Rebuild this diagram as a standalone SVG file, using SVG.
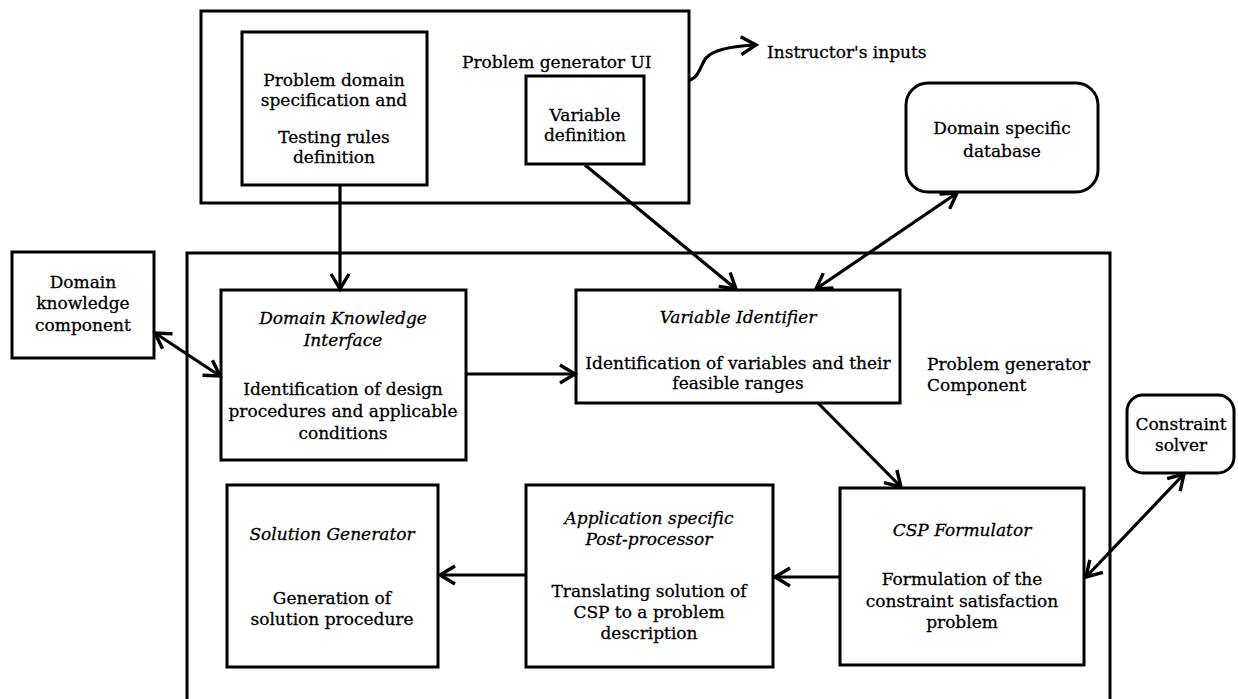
<svg xmlns="http://www.w3.org/2000/svg" width="1238" height="699" viewBox="0 0 1238 699">
  <style>
    .box { fill: #fff; stroke: #000; stroke-width: 3; }
    .frame { fill: none; stroke: #000; stroke-width: 3; }
    .t { font-family: "DejaVu Serif", "Liberation Serif", serif; font-size: 17px; fill: #000; stroke: #000; stroke-width: 0.3; }
    .c { text-anchor: middle; }
    .i { font-style: italic; }
    .link { fill: none; stroke: #000; stroke-width: 3.2; }
  </style>
  <defs>
    <marker id="chev" markerUnits="userSpaceOnUse" markerWidth="28" markerHeight="28" viewBox="-18 -14 22 28" refX="0" refY="0" orient="auto-start-reverse" overflow="visible">
      <path d="M-15,-9 L0,0 L-15,9" fill="none" stroke="#000" stroke-width="3.4"/>
    </marker>
  </defs>
  <rect width="1238" height="699" fill="#fff"/>

  <!-- Problem generator UI container -->
  <g id="ui-frame">
    <rect class="frame" x="201" y="11" width="488" height="192"/>
    <text class="t" x="462" y="68">Problem generator UI</text>
  </g>

  <!-- Problem generator component container -->
  <g id="component-frame">
    <rect class="frame" x="187" y="253" width="923" height="460"/>
    <text class="t" x="927" y="370">Problem generator</text>
    <text class="t" x="927" y="391">Component</text>
  </g>

  <g id="domain-spec">
    <rect class="box" x="242" y="32" width="185" height="153"/>
    <text class="t c" x="334" y="86">Problem domain</text>
    <text class="t c" x="334" y="106">specification and</text>
    <text class="t c" x="334" y="143">Testing rules</text>
    <text class="t c" x="334" y="163">definition</text>
  </g>

  <g id="variable-definition">
    <rect class="box" x="526" y="76" width="118" height="88"/>
    <text class="t c" x="585" y="121">Variable</text>
    <text class="t c" x="585" y="141">definition</text>
  </g>

  <g id="instructor-inputs">
    <text class="t" x="767" y="58">Instructor's inputs</text>
  </g>

  <g id="domain-database">
    <rect class="box" x="906" y="83" width="192" height="109" rx="22" ry="22"/>
    <text class="t c" x="1002" y="134">Domain specific</text>
    <text class="t c" x="1002" y="157">database</text>
  </g>

  <g id="domain-knowledge-component">
    <rect class="box" x="12" y="252" width="142" height="106"/>
    <text class="t c" x="83" y="288">Domain</text>
    <text class="t c" x="83" y="309">knowledge</text>
    <text class="t c" x="83" y="331">component</text>
  </g>

  <g id="domain-knowledge-interface">
    <rect class="box" x="221" y="290" width="245" height="170"/>
    <text class="t c i" x="343" y="324">Domain Knowledge</text>
    <text class="t c i" x="343" y="346">Interface</text>
    <text class="t c" x="343" y="395">Identification of design</text>
    <text class="t c" x="343" y="417">procedures and applicable</text>
    <text class="t c" x="343" y="439">conditions</text>
  </g>

  <g id="variable-identifier">
    <rect class="box" x="576" y="290" width="324" height="113"/>
    <text class="t c i" x="738" y="323">Variable Identifier</text>
    <text class="t c" x="738" y="369">Identification of variables and their</text>
    <text class="t c" x="738" y="389">feasible ranges</text>
  </g>

  <g id="constraint-solver">
    <rect class="box" x="1127" y="395" width="107" height="78" rx="16" ry="16"/>
    <text class="t c" x="1181" y="430">Constraint</text>
    <text class="t c" x="1181" y="451">solver</text>
  </g>

  <g id="solution-generator">
    <rect class="box" x="227" y="485" width="211" height="182"/>
    <text class="t c i" x="332" y="540">Solution Generator</text>
    <text class="t c" x="332" y="604">Generation of</text>
    <text class="t c" x="332" y="625">solution procedure</text>
  </g>

  <g id="post-processor">
    <rect class="box" x="526" y="485" width="247" height="182"/>
    <text class="t c i" x="649" y="524">Application specific</text>
    <text class="t c i" x="649" y="545">Post-processor</text>
    <text class="t c" x="649" y="597">Translating solution of</text>
    <text class="t c" x="649" y="618">CSP to a problem</text>
    <text class="t c" x="649" y="639">description</text>
  </g>

  <g id="csp-formulator">
    <rect class="box" x="840" y="488" width="244" height="177"/>
    <text class="t c i" x="962" y="536">CSP Formulator</text>
    <text class="t c" x="962" y="585">Formulation of the</text>
    <text class="t c" x="962" y="607">constraint satisfaction</text>
    <text class="t c" x="962" y="628">problem</text>
  </g>

  <!-- connectors -->
  <g id="connectors">
    <path class="link" d="M689,80 C699,78 700,66 706,58 C713,50 732,46 756,45" marker-end="url(#chev)"/>
    <line class="link" x1="340" y1="185" x2="340" y2="289" marker-end="url(#chev)"/>
    <line class="link" x1="585" y1="165" x2="736" y2="289" marker-end="url(#chev)"/>
    <line class="link" x1="957" y1="193" x2="816" y2="289" marker-start="url(#chev)" marker-end="url(#chev)"/>
    <line class="link" x1="155" y1="333" x2="220" y2="376" marker-start="url(#chev)" marker-end="url(#chev)"/>
    <line class="link" x1="466" y1="374" x2="575" y2="374" marker-end="url(#chev)"/>
    <line class="link" x1="818" y1="403" x2="901" y2="487" marker-end="url(#chev)"/>
    <line class="link" x1="1184" y1="474" x2="1086" y2="577" marker-start="url(#chev)" marker-end="url(#chev)"/>
    <line class="link" x1="840" y1="577" x2="775" y2="577" marker-end="url(#chev)"/>
    <line class="link" x1="526" y1="575" x2="440" y2="575" marker-end="url(#chev)"/>
  </g>
</svg>
